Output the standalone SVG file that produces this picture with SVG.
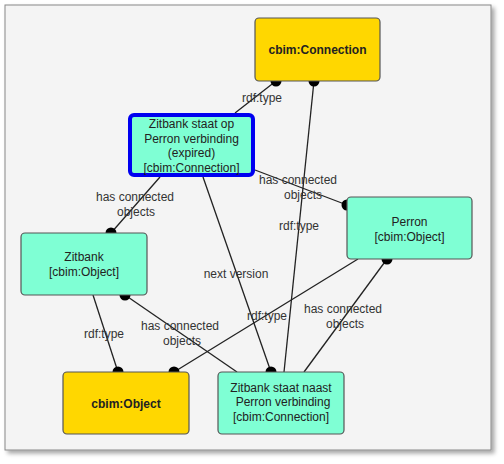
<svg xmlns="http://www.w3.org/2000/svg" width="504" height="464" viewBox="0 0 504 464">
<style>
.node rect{stroke:#555;stroke-width:1.2}
.obj{fill:#7fffd4}
.cls{fill:#ffd700}
.sel{stroke:#0000f0 !important;stroke-width:4 !important}
text{font-family:"Liberation Sans",Arial,sans-serif;font-size:12px;fill:#222;text-anchor:middle}
.b{font-weight:bold}
.edges line{stroke:#222;stroke-width:1.3}
.edges circle{fill:#000}
.lbl text{fill:#333}
</style>
<defs>
<filter id="sh" x="-5%" y="-5%" width="110%" height="110%"><feDropShadow dx="3" dy="3" stdDeviation="2" flood-color="#000" flood-opacity="0.35"/></filter>
</defs>
<rect x="0" y="0" width="504" height="464" fill="#fff"/>
<rect x="5" y="5" width="486" height="445" fill="#f4f4f4" stroke="#888" stroke-width="1" filter="url(#sh)"/>
<g class="edges">
<line x1="235" y1="113" x2="276" y2="81"/><circle cx="276" cy="81" r="5.5"/>
<line x1="284" y1="372" x2="314" y2="81"/><circle cx="314" cy="81" r="5.5"/>
<line x1="160" y1="177" x2="111" y2="233"/><circle cx="111" cy="233" r="5.5"/>
<line x1="255" y1="170" x2="347" y2="205"/><circle cx="347" cy="205" r="5.5"/>
<line x1="203" y1="177" x2="271" y2="372"/><circle cx="271" cy="372" r="5.5"/>
<line x1="93" y1="295" x2="118" y2="372"/><circle cx="118" cy="372" r="5.5"/>
<line x1="237" y1="372" x2="125" y2="295"/><circle cx="125" cy="295" r="5.5"/>
<line x1="358" y1="259" x2="174" y2="372"/><circle cx="174" cy="372" r="5.5"/>
<line x1="304" y1="372" x2="387" y2="259"/><circle cx="387" cy="259" r="5.5"/>
<g class="lbl">
<text x="262" y="102">rdf:type</text>
<text x="299" y="230">rdf:type</text>
<text x="135" y="201">has connected</text><text x="136" y="216">objects</text>
<text x="298" y="184">has connected</text><text x="303" y="199">objects</text>
<text x="236" y="278">next version</text>
<text x="104" y="338">rdf:type</text>
<text x="180" y="330">has connected</text><text x="182" y="345">objects</text>
<text x="267" y="320">rdf:type</text>
<text x="343" y="313">has connected</text><text x="345" y="328">objects</text>
</g>
</g>
<g id="n-connection" class="node"><rect class="cls" x="255" y="18" width="125" height="63" rx="4"/><text class="b" x="317.5" y="53.5">cbim:Connection</text></g>
<g id="n-staat-op" class="node"><rect class="obj sel" x="130" y="115" width="123" height="60" rx="4"/><text x="191.5" y="128">Zitbank staat op</text><text x="191.5" y="142.5">Perron verbinding</text><text x="191.5" y="157">(expired)</text><text x="191.5" y="171.5">[cbim:Connection]</text></g>
<g id="n-perron" class="node"><rect class="obj" x="347" y="197" width="125" height="62" rx="4"/><text x="409.5" y="226">Perron</text><text x="409.5" y="240.5">[cbim:Object]</text></g>
<g id="n-zitbank" class="node"><rect class="obj" x="21" y="233" width="126" height="62" rx="4"/><text x="84" y="261">Zitbank</text><text x="84" y="275.5">[cbim:Object]</text></g>
<g id="n-object" class="node"><rect class="cls" x="63" y="372" width="126" height="62" rx="4"/><text class="b" x="126" y="408">cbim:Object</text></g>
<g id="n-staat-naast" class="node"><rect class="obj" x="218" y="372" width="126" height="62" rx="4"/><text x="281" y="392">Zitbank staat naast</text><text x="283" y="406">Perron verbinding</text><text x="281" y="420.5">[cbim:Connection]</text></g>
</svg>
